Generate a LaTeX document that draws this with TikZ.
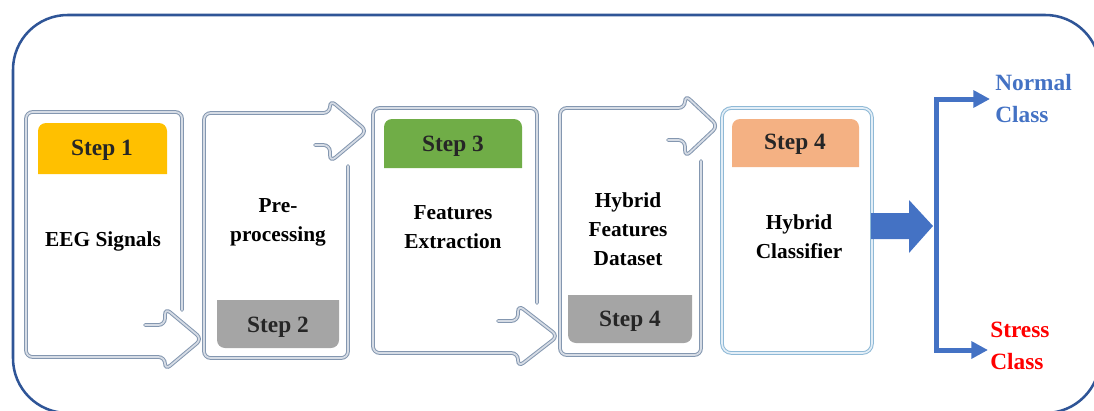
\documentclass[tikz,border=0pt]{standalone}
\usepackage{fontspec}
\setmainfont{Liberation Serif}
\usetikzlibrary{arrows.meta}
\definecolor{frameblue}{HTML}{2F5597}
\definecolor{stepgray}{HTML}{8497B0}
\definecolor{stepin}{HTML}{D6DCE5}
\definecolor{lastout}{HTML}{8FB9D6}
\definecolor{lastin}{HTML}{E3EEF7}
\definecolor{hyellow}{HTML}{FFC000}
\definecolor{hgreen}{HTML}{70AD47}
\definecolor{horange}{HTML}{F4B183}
\definecolor{hgray}{HTML}{A5A5A5}
\definecolor{abblue}{HTML}{4472C4}
\definecolor{steptxt}{HTML}{262626}
\begin{document}
\begin{tikzpicture}[x=0.75pt,y=-0.75pt,
  stepline/.style={draw=stepgray, double=stepin, double distance=1.3pt, line width=0.75pt, rounded corners=5pt, line cap=round},
  lastbox/.style={draw=lastout, double=lastin, double distance=1.2pt, line width=0.75pt, rounded corners=7pt},
  steplbl/.style={font=\fontsize{17.5}{21}\selectfont\bfseries, text=steptxt, inner sep=0pt},
  body/.style={font=\fontsize{16}{21.75}\selectfont\bfseries, align=center, inner sep=0pt},
  cls/.style={font=\fontsize{17.5}{23.5}\selectfont\bfseries, align=left, inner sep=0pt, anchor=west},
  bracket/.style={draw=abblue, line width=3.75pt, line join=miter, arrows={-Triangle[length=12.5pt,width=12.5pt]}}]
\useasboundingbox (0,0) rectangle (1094,410);
% outer frame (right and bottom edges lie beyond the visible area)
\begin{scope}
\clip (0,0) rectangle (1094,410);
\draw[frameblue, line width=1.9pt, rounded corners=41pt] (13,15) rectangle (1100,413);
\end{scope}

% step 1 shape
\draw[stepline] (182,310) -- (182,112) -- (26,112) -- (26,357) -- (165,357) -- (165,370) -- (202,339) -- (165,308) -- (165,325) -- (145,325);
% step 2 shape
\draw[stepline] (315,145) -- (330,145) -- (330,162) -- (367,131) -- (330,100) -- (330,113) -- (204,113) -- (204,358) -- (348,358) -- (348,166);
% step 3 shape
\draw[stepline] (537,303) -- (537,108) -- (373,108) -- (373,353) -- (518,353) -- (518,367) -- (558,336) -- (518,305) -- (518,321) -- (498,321);
% step 4 shape
\draw[stepline] (668,140) -- (685,140) -- (685,157) -- (718,126) -- (685,95) -- (685,108) -- (560,108) -- (560,355) -- (701,355) -- (701,161);
% step 5 box
\draw[lastbox] (722,108) rectangle (872,353);

% headers
\fill[hyellow] (38,174) [rounded corners=6pt] -- (38,123) -- (167,123) [sharp corners] -- (167,174) -- cycle;
\fill[hgreen] (384,168) [rounded corners=6pt] -- (384,119) -- (522,119) [sharp corners] -- (522,168) -- cycle;
\fill[horange] (732,167) [rounded corners=6pt] -- (732,119) -- (859,119) [sharp corners] -- (859,167) -- cycle;
% footers
\fill[hgray] (217,300) [rounded corners=6pt] -- (217,348) -- (339,348) [sharp corners] -- (339,300) -- cycle;
\fill[hgray] (568,295) [rounded corners=6pt] -- (568,343) -- (692,343) [sharp corners] -- (692,295) -- cycle;

% labels
\node[steplbl] (s1) at (102,150) {Step 1};
\node[steplbl] (s2) at (278,327) {Step 2};
\node[steplbl] (s3) at (453,146) {Step 3};
\node[steplbl] (s4) at (630,321) {Step 4};
\node[steplbl] (s5) at (795,144) {Step 4};

\node[body] (t1) at (103,241) {EEG Signals};
\node[body] (t2) at (278,222.5) {Pre-\\processing};
\node[body] (t3) at (453,227.5) {Features\\Extraction};
\node[body] (t4) at (628,229.5) {Hybrid\\Features\\Dataset};
\node[body] (t5) at (799,236.5) {Hybrid\\Classifier};

% block arrow
\fill[abblue] (871,213) -- (909,213) -- (909,200) -- (933,226) -- (909,253) -- (909,239) -- (871,239) -- cycle;

% class labels
\node[cls, text=abblue] (normal) at (995,98.5) {Normal\\Class};
\node[cls, text=red] (stress) at (990,346) {Stress\\Class};

% bracket
\coordinate (bm) at (936,226);
\coordinate (bt) at (936,99);
\coordinate (bb) at (936,350);
\coordinate (nt) at (990,99);
\coordinate (st) at (988,350);
\draw[bracket, line cap=butt] (bm) -- (bt) -- (nt);
\draw[bracket, line cap=butt] (bm) -- (bb) -- (st);
\end{tikzpicture}
\end{document}
